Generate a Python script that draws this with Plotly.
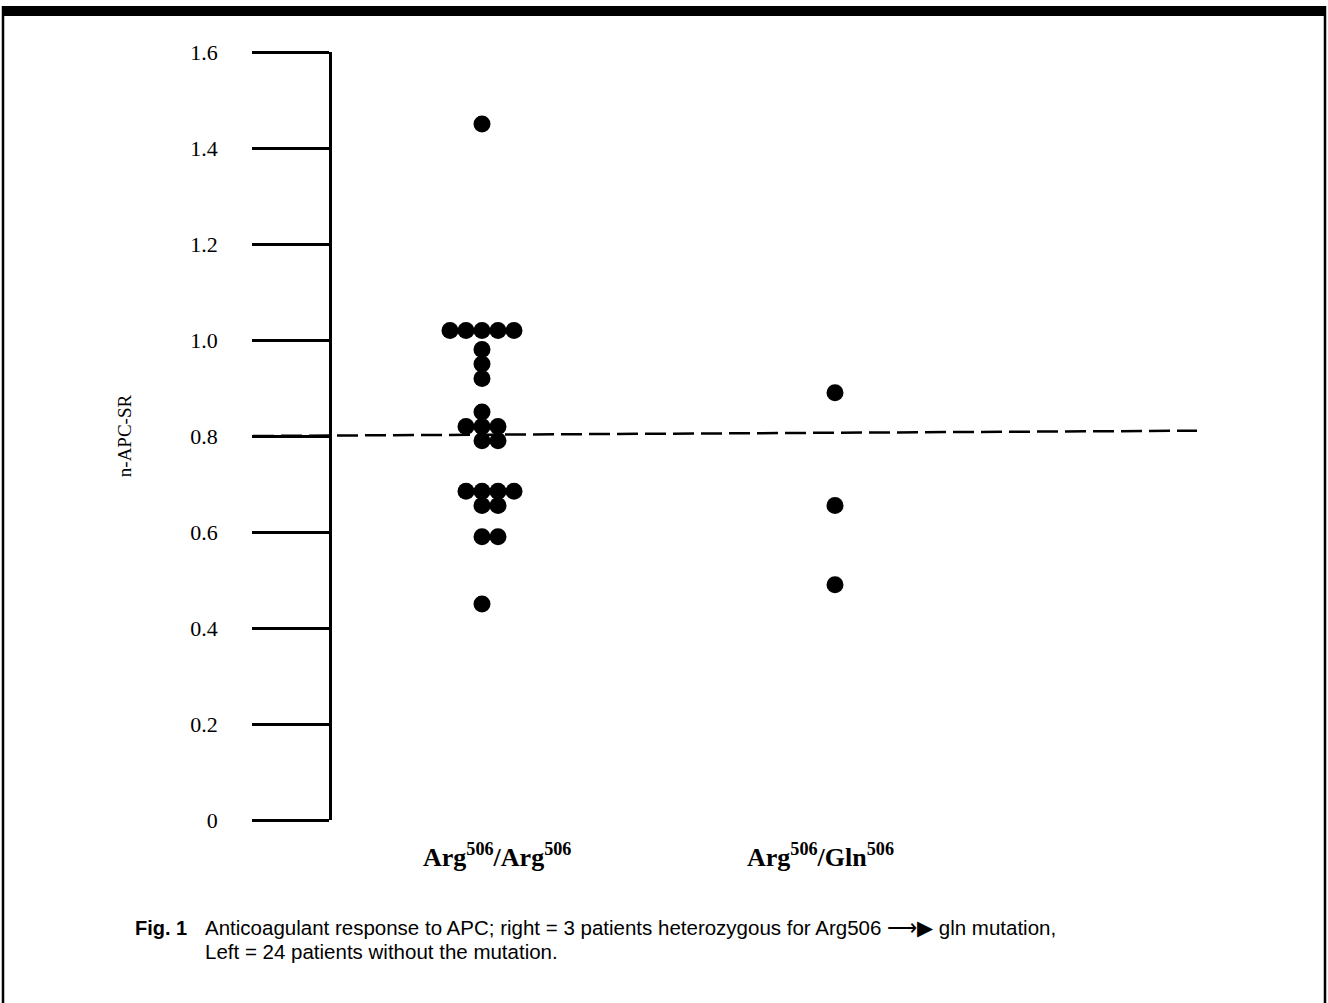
import plotly.graph_objects as go
from collections import Counter

# ---- data ----
groups = ["Arg<sup>506</sup>/Arg<sup>506</sup>", "Arg<sup>506</sup>/Gln<sup>506</sup>"]
left_values = [1.45, 1.02, 1.02, 1.02, 1.02, 1.02, 0.98, 0.95, 0.92, 0.85,
               0.82, 0.82, 0.82, 0.79, 0.79, 0.685, 0.685, 0.685, 0.685,
               0.655, 0.655, 0.59, 0.59, 0.45]
right_values = [0.89, 0.655, 0.49]
cutoff_y = [0.80, 0.811]
ytick_vals = [0, 0.2, 0.4, 0.6, 0.8, 1.0, 1.2, 1.4, 1.6]
ytick_text = ["0", "0.2", "0.4", "0.6", "0.8", "1.0", "1.2", "1.4", "1.6"]
y_title = "n-APC-SR"
caption_label = "<b>Fig. 1</b>"
caption_lines = ["Anticoagulant response to APC; right = 3 patients heterozygous for Arg506 ⟶▶ gln mutation,",
                 "Left = 24 patients without the mutation."]

# ---- layout constants (pixels) ----
W, H = 1328, 1003
PL, PR, PT, PB = 253, 1197, 52, 820     # plot area
AXIS_PX = 330                             # y axis line
GROUP_PX = [482, 835]
SLOT_PX = 16
unit = GROUP_PX[1] - GROUP_PX[0]
xmin = 1 - (GROUP_PX[0] - PL) / unit
xmax = 2 + (PR - GROUP_PX[1]) / unit
slot = SLOT_PX / unit


def px_x(p):
    return (p - PL) / (PR - PL)


def px_y(p):
    return (PB - p) / (PB - PT)


def swarm(values, center):
    counts = Counter(values)
    seen = Counter()
    xs = []
    for v in values:
        n = counts[v]
        i = seen[v]
        seen[v] += 1
        xs.append(center + (i - (n - 1) // 2) * slot)
    return xs


fig = go.Figure()
for gi, vals in enumerate([left_values, right_values]):
    fig.add_trace(go.Scatter(
        x=swarm(vals, gi + 1), y=vals, mode="markers",
        marker=dict(color="black", size=17, line=dict(width=0)),
        showlegend=False, cliponaxis=False))

fig.add_trace(go.Scatter(
    x=[xmin, xmax], y=cutoff_y, mode="lines",
    line=dict(color="black", width=2.5, dash="21px,7px"),
    showlegend=False))

serif = "Liberation Serif, Times New Roman, serif"

fig.update_layout(
    width=W, height=H,
    margin=dict(l=PL, r=W - PR, t=PT, b=H - PB, autoexpand=False),
    paper_bgcolor="white", plot_bgcolor="white",
    xaxis=dict(range=[xmin, xmax], visible=False),
    yaxis=dict(
        range=[0, 1.6], anchor="free", position=px_x(AXIS_PX),
        showgrid=False, zeroline=False,
        showline=True, linecolor="black", linewidth=2.5,
        ticks="outside", ticklen=AXIS_PX - PL, tickwidth=2.5, tickcolor="black",
        tickvals=ytick_vals, ticktext=ytick_text, ticklabelstandoff=30,
        tickfont=dict(family=serif, size=22, color="black"),
        title=dict(text=y_title, font=dict(family=serif, size=19, color="black"),
                   standoff=52),
    ),
)

# category labels
for gi, (g, shift) in enumerate(zip(groups, [15, -15])):
    fig.add_annotation(x=gi + 1, y=px_y(874), xref="x", yref="paper",
                       text=f"<b>{g}</b>", showarrow=False, xshift=shift,
                       font=dict(family=serif, size=26, color="black"))

sans = "Liberation Sans Narrow, Arial Narrow, Liberation Sans, Arial, sans-serif"
fig.add_annotation(x=px_x(133), y=px_y(928), xref="paper", yref="paper",
                   xanchor="left", yanchor="middle", text=caption_label,
                   showarrow=False, font=dict(family=sans, size=20, color="black"))
for li, (line, ypx) in enumerate(zip(caption_lines, [927, 951])):
    fig.add_annotation(x=px_x(203), y=px_y(ypx), xref="paper", yref="paper",
                       xanchor="left", yanchor="middle", align="left", text=line,
                       showarrow=False, font=dict(family=sans, size=20.5, color="black"))

# frame
fig.add_shape(type="rect", xref="paper", yref="paper",
              x0=px_x(2), x1=px_x(1326), y0=px_y(16), y1=px_y(6),
              fillcolor="black", line=dict(width=0))
for xp in [3, 1325]:
    fig.add_shape(type="line", xref="paper", yref="paper",
                  x0=px_x(xp), x1=px_x(xp), y0=px_y(6), y1=px_y(1003),
                  line=dict(color="black", width=2.5))

fig.write_html("out.html", config={"displayModeBar": False},
               post_script="document.body.style.margin='0';document.body.style.overflow='hidden';")
